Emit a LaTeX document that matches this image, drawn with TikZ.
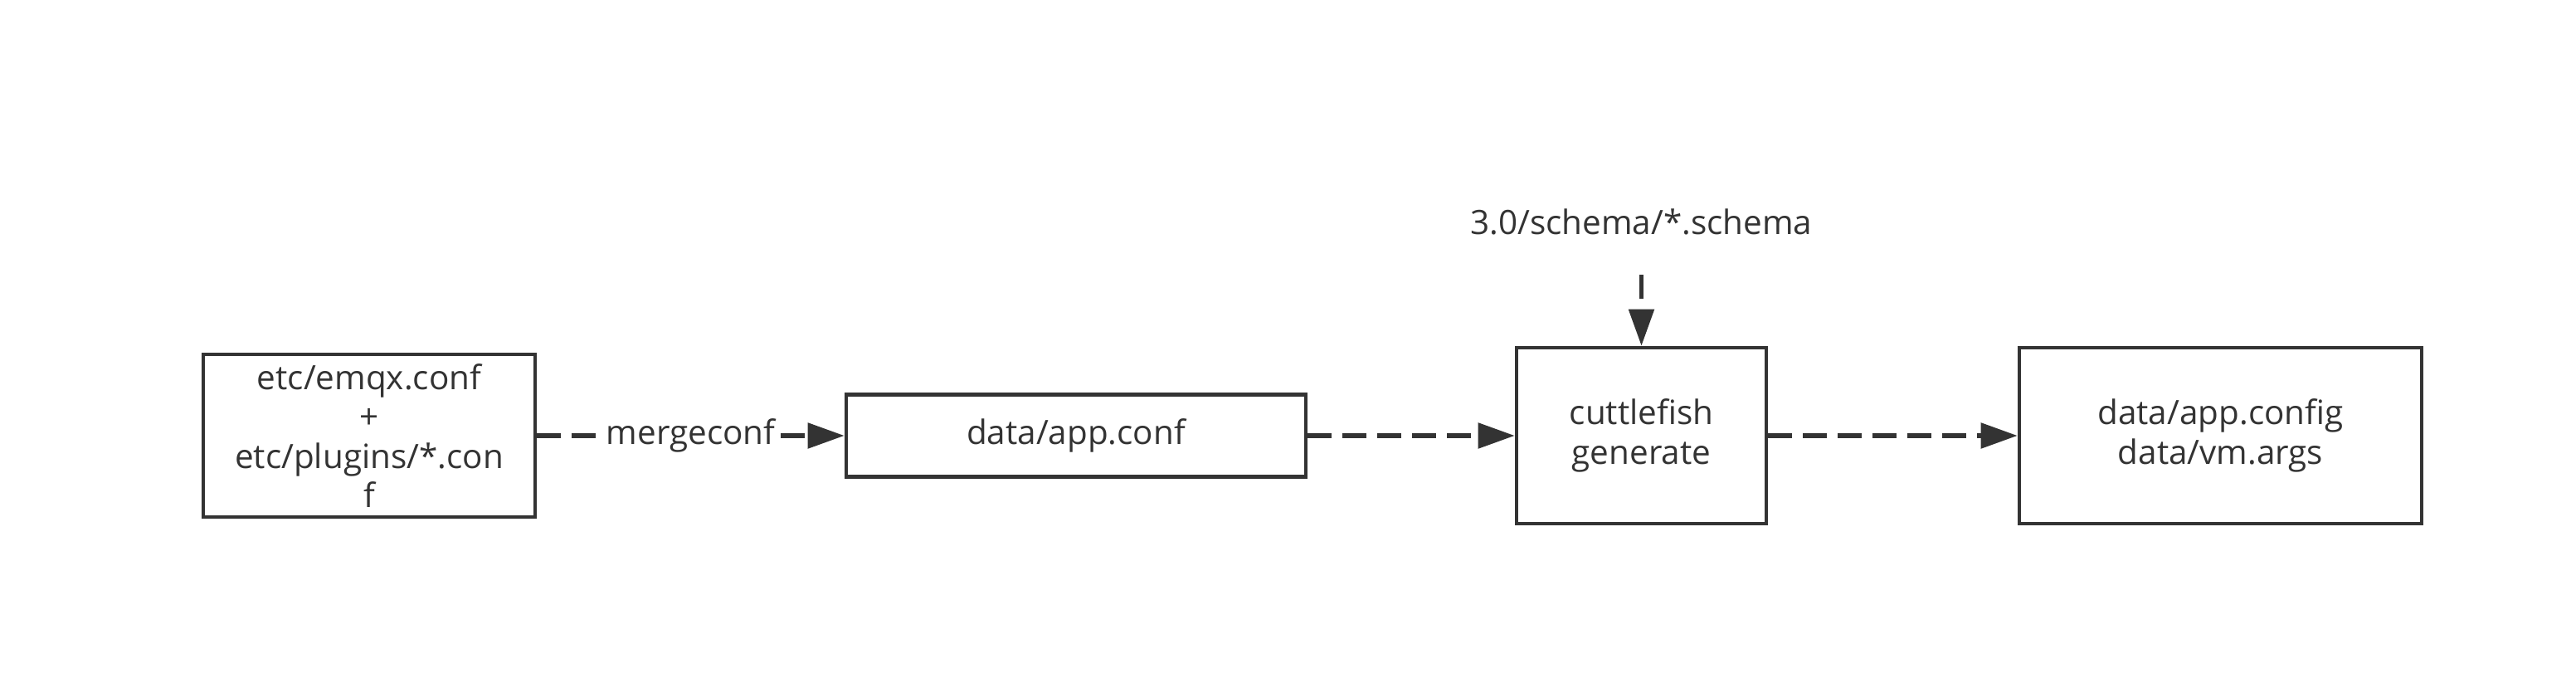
\documentclass[tikz,border=0pt]{standalone}
\usepackage{fontspec}
\setmainfont{Open Sans}
\usetikzlibrary{arrows.meta}
\definecolor{ink}{HTML}{333333}

\begin{document}
\begin{tikzpicture}[>={Triangle[length=0.44cm, width=0.30cm]},
      every node/.append style={font=\fontsize{11.5}{13.5}\selectfont, text=ink},
      filebox/.style={draw=ink, line width=1.3pt, fill=white, align=center, inner sep=2pt},
      flow/.style={->, draw=ink, line width=1.5pt, dash pattern=on 0.29cm off 0.13cm}]
    \useasboundingbox (0,0) rectangle (31.05,8.16);

    % ---------------- files ----------------
    \node[filebox, minimum width=4.00cm, minimum height=1.96cm] (src) at (4.45,2.91)
      {etc/emqx.conf\\+\\etc/plugins/*.con\\f};
    \node[filebox, minimum width=5.54cm, minimum height=0.99cm] (appconf) at (12.97,2.91) {data/app.conf};
    \node[filebox, minimum width=3.01cm, minimum height=2.12cm] (gen) at (19.785,2.91) {cuttlefish\\generate};
    \node[filebox, minimum width=4.85cm, minimum height=2.12cm] (out) at (26.765,2.91) {data/app.config\\data/vm.args};
    \node (schema) at (19.785,5.49) {3.0/schema/*.schema};

    % ---------------- steps ----------------
    \draw[flow] (src) -- node[fill=white, inner sep=1pt] {mergeconf} (appconf);
    \draw[flow] (appconf) -- (gen);
    \draw[flow] (gen) -- (out);
    \draw[flow, shorten <=0.36cm] (schema.south) -- (gen.north);
\end{tikzpicture}
\end{document}
